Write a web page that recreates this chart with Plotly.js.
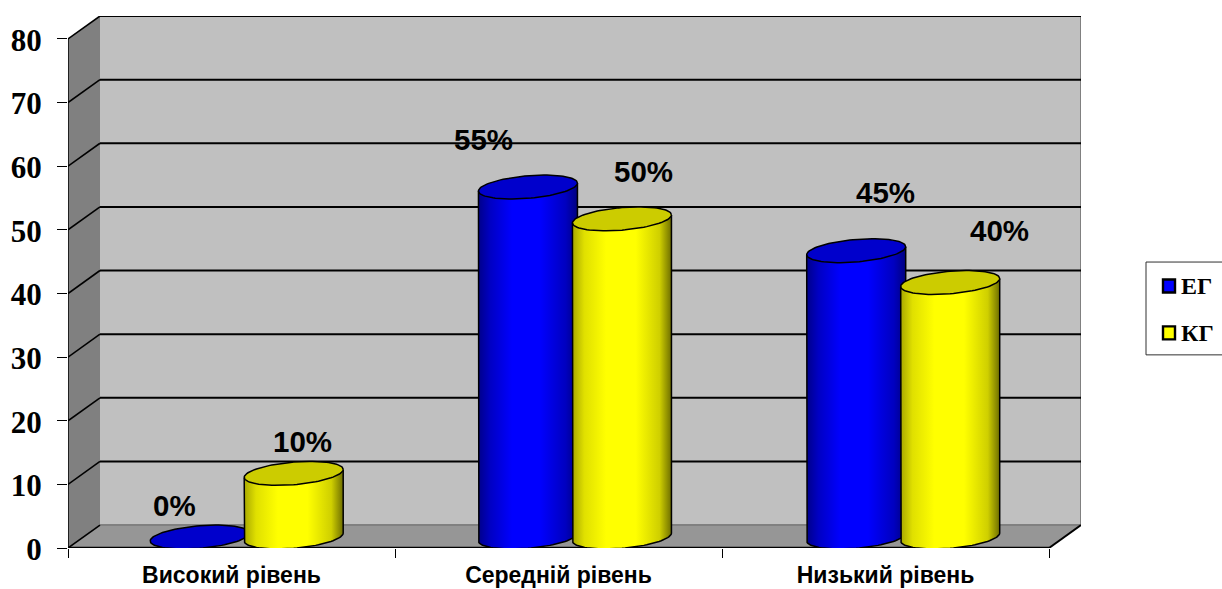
<!DOCTYPE html>
<html>
<head>
<meta charset="utf-8">
<script src="https://cdn.plot.ly/plotly-3.0.1.min.js"></script>
<style>html,body{margin:0;padding:0;background:#fff;overflow:hidden}</style>
</head>
<body>
<div id="chart" style="width:1222px;height:589px"></div>
<script>
// Achievement levels for the experimental and control groups
const levels = ['Високий рівень', 'Середній рівень', 'Низький рівень'];
const groupNames = ['ЕГ', 'КГ'];
const egValues = [0, 55, 45];
const kgValues = [10, 50, 40];
const yTicks = [0, 10, 20, 30, 40, 50, 60, 70, 80];

// Hand-placed percent labels: pixel offsets from each cylinder's top centre
const egLabelOffsets = [[-25.5, 43], [-44.5, 59], [29, 69]];
const kgLabelOffsets = [[8.5, 43], [21.5, 58], [49.5, 63]];

// Plot scale, in pixels per axis unit
const W = 1222, H = 589;
const M = {l: 68, r: 141, t: 15.5, b: 40.5};
const PX_X = 327, PX_Y = 6.375;
const DEPTH_X = 32 / PX_X, DEPTH_Y = 23 / PX_Y;
const Y_MAX = 80;

// Oblique cylinder geometry, expressed in axis units
const RX = 49.5 / PX_X, RY = 11.3 / PX_Y, TILT = 4 / PX_Y;
const BASE = 11 / PX_Y;
const FIRST_GROUP = 178.7 / PX_X, GROUP_PITCH = 328.25 / PX_X, HALF_GAP = 47 / PX_X;

const BLACK = '#000000';
const OUTLINE = 1.5;
const styles = {
  eg: {
    top: '#0000cc', swatch: '#0000ff',
    body: [[0, '#00008a'], [0.12, '#0000c4'], [0.34, '#0000ff'], [0.62, '#0000ff'], [0.88, '#0000c0'], [1, '#000080']]
  },
  kg: {
    top: '#cccc00', swatch: '#ffff00',
    body: [[0, '#a8a800'], [0.12, '#e0e000'], [0.34, '#ffff00'], [0.64, '#ffff00'], [0.88, '#cfcf00'], [1, '#6e6e00']]
  }
};

function arc(cx, level, from, to, steps) {
  const xs = [], ys = [];
  for (let i = 0; i <= steps; i++) {
    const t = from + (to - from) * i / steps;
    xs.push(cx + RX * Math.cos(t));
    ys.push(level + TILT * Math.cos(t) + RY * Math.sin(t));
  }
  return {xs, ys};
}

function cylinderTraces(cx, value, style) {
  const traces = [];
  const baseLevel = BASE;
  const topLevel = BASE + value;
  if (value > 0) {
    // Side wall: down the left edge, round the front of the base, up the right edge
    const lower = arc(cx, baseLevel, Math.PI, 2 * Math.PI, 48);
    traces.push({
      type: 'scatter', mode: 'lines', hoverinfo: 'skip', showlegend: false, cliponaxis: false,
      x: [cx - RX].concat(lower.xs, [cx + RX]),
      y: [topLevel - TILT].concat(lower.ys, [topLevel + TILT]),
      fill: 'toself',
      fillgradient: {type: 'horizontal', colorscale: style.body},
      line: {color: BLACK, width: OUTLINE}
    });
  }
  const cap = arc(cx, topLevel, 0, 2 * Math.PI, 96);
  traces.push({
    type: 'scatter', mode: 'lines', hoverinfo: 'skip', showlegend: false, cliponaxis: false,
    x: cap.xs, y: cap.ys, fill: 'toself', fillcolor: style.top,
    line: {color: BLACK, width: OUTLINE}
  });
  return traces;
}

const data = [];
const annotations = [];
const labelFont = {family: 'Liberation Sans', size: 29.5, color: BLACK, weight: 'bold'};

function valueLabel(cx, value, offset) {
  annotations.push({
    xref: 'x', yref: 'y', x: cx, y: value, xshift: offset[0], yshift: offset[1],
    text: '<b>' + value + '%</b>', showarrow: false, xanchor: 'center', yanchor: 'middle', font: labelFont
  });
}

levels.forEach((name, i) => {
  const centre = FIRST_GROUP + i * GROUP_PITCH;
  data.push(...cylinderTraces(centre - HALF_GAP, egValues[i], styles.eg));
  data.push(...cylinderTraces(centre + HALF_GAP, kgValues[i], styles.kg));
  valueLabel(centre - HALF_GAP, egValues[i], egLabelOffsets[i]);
  valueLabel(centre + HALF_GAP, kgValues[i], kgLabelOffsets[i]);
});

// Chart box: walls, floor and gridlines sit behind the cylinders
const nSlots = levels.length;
const polygon = (pts, fill) => ({
  type: 'path', xref: 'x', yref: 'y', layer: 'below',
  path: 'M' + pts.map(p => p[0] + ',' + p[1]).join('L') + 'Z',
  fillcolor: fill, line: {width: 0}
});
const segment = (x0, y0, x1, y1, color, width) => ({
  type: 'line', xref: 'x', yref: 'y', layer: 'below', x0, y0, x1, y1,
  line: {color, width}
});

const shapes = [
  polygon([[DEPTH_X, DEPTH_Y], [nSlots + DEPTH_X, DEPTH_Y], [nSlots + DEPTH_X, Y_MAX + DEPTH_Y], [DEPTH_X, Y_MAX + DEPTH_Y]], '#c0c0c0'),
  polygon([[0, 0], [DEPTH_X, DEPTH_Y], [DEPTH_X, Y_MAX + DEPTH_Y], [0, Y_MAX]], '#808080'),
  polygon([[0, 0], [nSlots, 0], [nSlots + DEPTH_X, DEPTH_Y], [DEPTH_X, DEPTH_Y]], '#969696'),
  segment(DEPTH_X, DEPTH_Y, nSlots + DEPTH_X, DEPTH_Y, '#808080', 2),
  segment(nSlots + DEPTH_X, DEPTH_Y, nSlots + DEPTH_X, Y_MAX + DEPTH_Y, '#808080', 2)
];
yTicks.forEach(v => {
  shapes.push(segment(0, v, DEPTH_X, v + DEPTH_Y, BLACK, 1.6));
  if (v > 0) shapes.push(segment(DEPTH_X, v + DEPTH_Y, nSlots + DEPTH_X, v + DEPTH_Y, BLACK, 2));
});
shapes.push(segment(0, 0, 0, Y_MAX, BLACK, 1.5));
shapes.push(segment(0, 0, nSlots, 0, BLACK, 2.4));
shapes.push(segment(nSlots, 0, nSlots + DEPTH_X, DEPTH_Y, BLACK, 2));

// Key, placed in page pixels
const plotW = W - M.l - M.r, plotH = H - M.t - M.b;
const paperX = px => (px - M.l) / plotW;
const paperY = py => (H - M.b - py) / plotH;
const pageRect = (x0, y0, x1, y1, fill, color, width) => ({
  type: 'rect', xref: 'paper', yref: 'paper', layer: 'above',
  x0: paperX(x0), x1: paperX(x1), y0: paperY(y0), y1: paperY(y1),
  fillcolor: fill, line: {color, width}
});
shapes.push(pageRect(1146, 262, 1240, 355, '#ffffff', '#303030', 1));
[[groupNames[0], styles.eg, 286], [groupNames[1], styles.kg, 333]].forEach(([name, s, py]) => {
  shapes.push(pageRect(1163, py - 6.5, 1175, py + 6.5, s.swatch, BLACK, 2.4));
  annotations.push({
    xref: 'paper', yref: 'paper', x: paperX(1179), y: paperY(py), xanchor: 'left', yanchor: 'middle',
    text: '<b>' + name + '</b>', showarrow: false,
    font: {family: 'Liberation Serif', size: 24, color: BLACK, weight: 'bold'}
  });
});

const layout = {
  width: W, height: H,
  margin: M,
  paper_bgcolor: '#ffffff', plot_bgcolor: 'rgba(0,0,0,0)',
  showlegend: false,
  xaxis: {
    type: 'linear', range: [0, nSlots + DEPTH_X], fixedrange: true,
    showgrid: false, zeroline: false, showline: false,
    tickmode: 'array', tickvals: levels.map((_, i) => i + 0.5), ticktext: levels.map(s => '<b>' + s + '</b>'),
    ticks: '', ticklabelstandoff: 11,
    tickfont: {family: 'Liberation Sans', size: 23, color: BLACK},
    minor: {tickmode: 'array', tickvals: [0, 1, 2, 3], ticks: 'outside', ticklen: 9, tickwidth: 1, tickcolor: BLACK, showgrid: false}
  },
  yaxis: {
    range: [0, Y_MAX + DEPTH_Y], fixedrange: true,
    showgrid: false, zeroline: false, showline: false,
    tickmode: 'array', tickvals: yTicks, ticks: 'outside', ticklen: 10, tickwidth: 1, tickcolor: BLACK,
    ticklabelstandoff: 9, ticklabelshift: 1,
    tickfont: {family: 'Liberation Serif', size: 31, color: BLACK, weight: 'bold'}
  },
  shapes, annotations
};

Plotly.newPlot('chart', data, layout, {displayModeBar: false, staticPlot: true});
</script>
</body>
</html>
